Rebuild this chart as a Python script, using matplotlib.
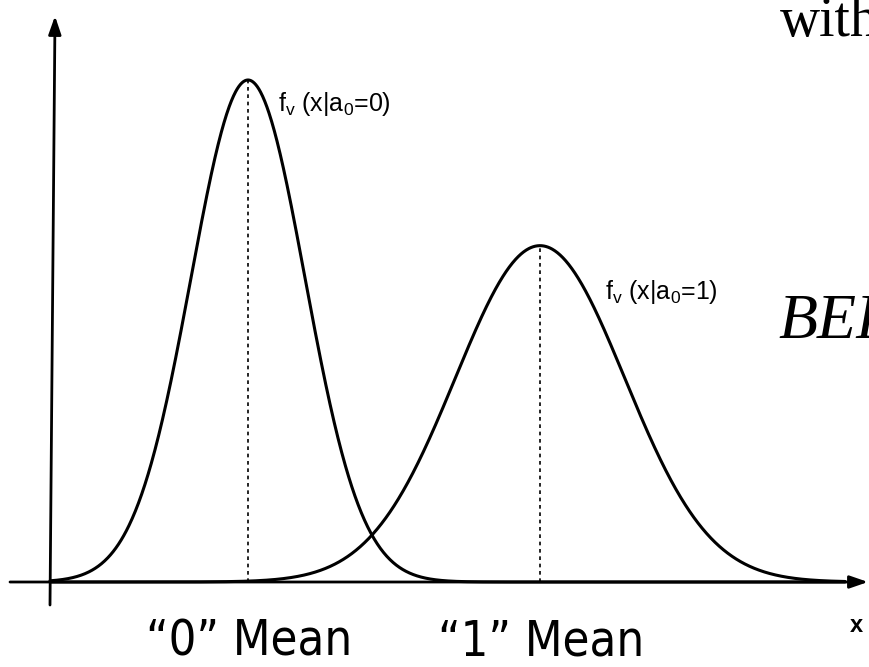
import numpy as np
import matplotlib
matplotlib.use("Agg")
import matplotlib.pyplot as plt

# ---- data ----
means = [0.0, 1.0]            # "0" mean and "1" mean (x units)
sigmas = [0.195, 0.29]        # spread of each conditional density
peaks = [1.0, 0.67]           # relative peak heights
curve_labels = [r"f$_\mathregular{v}$ (x|a$_\mathregular{0}$=0)",
                r"f$_\mathregular{v}$ (x|a$_\mathregular{0}$=1)"]
mean_labels = ["\u201c0\u201d Mean", "\u201c1\u201d Mean"]

W, H = 869, 667
fig = plt.figure(figsize=(W / 100, H / 100), dpi=100)
ax = fig.add_axes([0, 0, 1, 1])
ax.set_axis_off()

# pixel -> data mapping helpers (layout only)
px_mean0, px_dist = 248.0, 292.0
px_base, px_unit = 582.0, 502.0
def X(px):
    return (px - px_mean0) / px_dist
def Y(py):
    return (px_base - py) / px_unit

ax.set_xlim(X(0), X(W))
ax.set_ylim(Y(H), Y(0))

lw = 2.2
arrow = dict(arrowstyle="-|>,head_length=1.1,head_width=0.38", lw=2.0, color="black",
             shrinkA=0, shrinkB=0)
# axes with arrows
ax.annotate("", xy=(X(868), 0), xytext=(X(10), 0), arrowprops=arrow)
ax.annotate("", xy=(X(55), Y(16)), xytext=(X(50), Y(605)), arrowprops=arrow)

xs = np.linspace(X(50), X(845), 1500)
for m, s, p in zip(means, sigmas, peaks):
    ys = p * np.exp(-0.5 * ((xs - m) / s) ** 2)
    ax.plot(xs, ys, color="black", lw=lw, solid_capstyle="round")
    ax.plot([m, m], [0, p], color="black", lw=1.2, ls=(0, (2.2, 2.2)))

# curve labels
ax.text(X(278), Y(104), curve_labels[0], fontsize=18, family="Liberation Sans",
        ha="left", va="center")
ax.text(X(605), Y(292), curve_labels[1], fontsize=18, family="Liberation Sans",
        ha="left", va="center")

# mean labels
for m, lab in zip(means, mean_labels):
    ax.text(m + X(249) - X(248), Y(642), lab, fontsize=35, family="DejaVu Sans",
            fontstretch="condensed", ha="center", va="center")

ax.text(X(856), Y(625), "x", fontsize=17, family="Liberation Sans", weight="bold",
        ha="center", va="center")

# fragments of surrounding slide text (cut by the right edge, as in the reference)
ax.text(X(780), Y(36), "with", fontsize=40, family="Liberation Serif",
        ha="left", va="baseline")
ax.text(X(778), Y(338), "BER", fontsize=46, family="Liberation Serif", style="italic",
        ha="left", va="baseline")

fig.savefig("out.png", dpi=100)
